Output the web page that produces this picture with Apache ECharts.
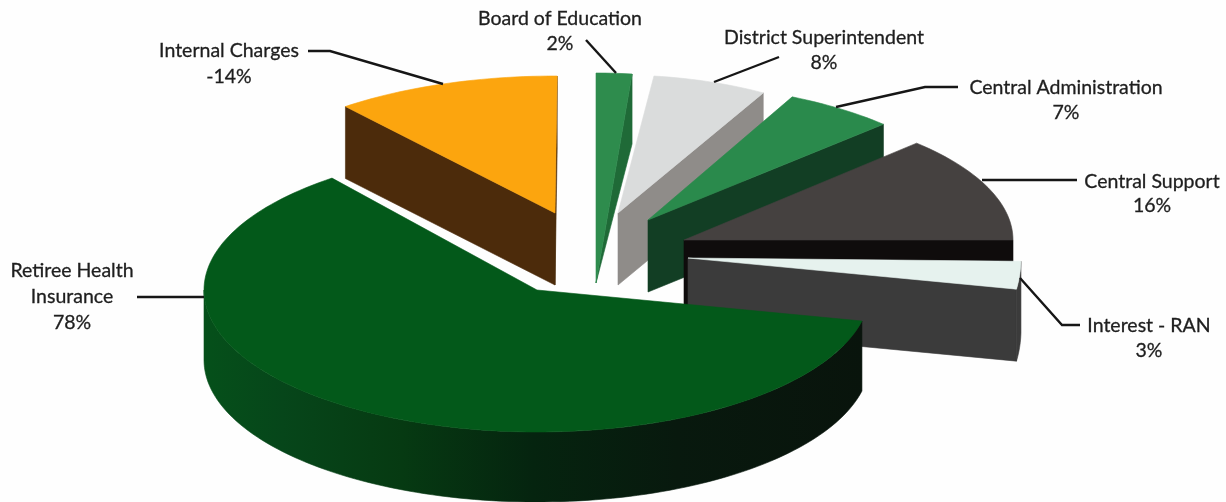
<!DOCTYPE html>
<html>
<head>
<meta charset="utf-8">
<style>html,body{margin:0;padding:0;background:#fefefe}#c{width:1226px;height:502px}</style>
<script src="https://cdn.jsdelivr.net/npm/echarts@6/dist/echarts.min.js"></script>
</head>
<body>
<div id="c"></div>
<script>
// Data (draw order: clockwise from the top left)
var categories = ['Internal Charges', 'Board of Education', 'District Superintendent', 'Central Administration', 'Central Support', 'Interest - RAN', 'Retiree Health\nInsurance'];
var shareValues = [-14, 2, 8, 7, 16, 3, 78];

// Styling of each slice
var topColors  = ['#fca50e', '#2e8c4d', '#dadcdc', '#2a8a4c', '#454140', '#e6f2ee', '#03591a'];
var wallColors = ['#4c2b0b', '#1f6a37', '#8f8c89', '#123e24', '#0f0c0c', '#3b3b3b', null];

// Placement of each exploded slice: apex, radii, thickness, rotation
var layout = [
  {x: 555, y: 213, rx: 333, ry: 137, depth: 72, apexDepth: 72, start: 129},
  {x: 596, y: 283, rx: 368, ry: 210, depth: 70, apexDepth: 0,  start: 90},
  {x: 618, y: 213, rx: 295, ry: 138, depth: 72, apexDepth: 72, start: 83},
  {x: 648, y: 220, rx: 329, ry: 137, depth: 72, apexDepth: 72, start: 64},
  {x: 684, y: 240, rx: 329, ry: 137, depth: 72, apexDepth: 66, start: 45},
  {x: 688, y: 258, rx: 333, ry: 190, depth: 72, apexDepth: 72, start: -1},
  {x: 537, y: 290, rx: 333, ry: 142, depth: 70, apexDepth: 70, start: 128}
];

// Text blocks and leader lines
var labelLayout = [
  {x: 229, y: 51,  lh: 26, line: [[308, 51], [330, 51], [443, 84]]},
  {x: 560, y: 19,  lh: 25, line: [[586, 40], [616, 73]]},
  {x: 824, y: 38,  lh: 25, line: [[779, 57], [714, 82]]},
  {x: 1066, y: 88, lh: 25, line: [[958, 87], [925, 87], [836, 107]]},
  {x: 1152, y: 182, lh: 24, line: [[1077, 180], [982, 180]]},
  {x: 1149, y: 326, lh: 25, line: [[1080, 325], [1062, 325], [1020, 278]]},
  {x: 72, y: 271,  lh: 26, line: [[137, 297], [204, 297]]}
];

var total = shareValues.reduce(function (s, v) { return s + Math.abs(v); }, 0);
var FONT = '19.5px Lato, "Open Sans", sans-serif';
var TEXT = '#1e1e1e';

function rimPoint(l, deg, drop) {
  var a = deg * Math.PI / 180;
  return [l.x + l.rx * Math.cos(a), l.y - l.ry * Math.sin(a) + (drop || 0)];
}
function arc(l, from, to, drop) {
  var pts = [], n = Math.max(2, Math.ceil(Math.abs(to - from) / 1.5));
  for (var k = 0; k <= n; k++) pts.push(rimPoint(l, from + (to - from) * k / n, drop));
  return pts;
}
function poly(points, fill, z2) {
  return {type: 'polygon', shape: {points: points}, style: {fill: fill, stroke: fill, lineWidth: 0.6}, z2: z2 || 0};
}

function renderSlice(params, api) {
  var i = api.value(0), val = api.value(1);
  var l = layout[i];
  var sweep = Math.abs(val) / total * 360;
  var high = l.start;                 // Slices run clockwise from their start, except the big one
  var low = high - sweep;
  if (sweep > 180) { low = l.start; high = l.start + sweep; }
  var apex = [l.x, l.y], apexB = [l.x, l.y + l.apexDepth];
  var wall = wallColors[i] || new echarts.graphic.LinearGradient(0, 0, 1, 0, [
    {offset: 0, color: '#05501a'}, {offset: 0.12, color: '#06461a'}, {offset: 0.3, color: '#063a12'},
    {offset: 0.5, color: '#05240f'}, {offset: 0.72, color: '#08190e'}, {offset: 1, color: '#09140c'}
  ]);
  var kids = [];

  // Cut faces that look toward the viewer
  if (Math.cos(low * Math.PI / 180) > 0.001 && sweep <= 180) {
    kids.push(poly([apex, rimPoint(l, low), rimPoint(l, low, l.depth), apexB], wall));
  }
  if (Math.cos(high * Math.PI / 180) < -0.001 && sweep <= 180) {
    kids.push(poly([apex, rimPoint(l, high), rimPoint(l, high, l.depth), apexB], wall));
  }
  // Outer rim, only the part in the front half
  [[Math.max(low, 180), Math.min(high, 360)], [Math.max(low, -180), Math.min(high, 0)]].forEach(function (s) {
    if (s[1] > s[0]) {
      kids.push(poly(arc(l, s[0], s[1], 0).concat(arc(l, s[1], s[0], l.depth)), wall));
    }
  });
  // Top surface
  kids.push(poly([apex].concat(arc(l, low, high, 0)), topColors[i], 1));

  // Leader and label
  var lab = labelLayout[i];
  kids.push({type: 'polyline', shape: {points: lab.line}, style: {stroke: '#161616', lineWidth: 2.4, fill: null}, z2: 5});
  var lines = categories[i].split('\n').concat([val + '%']);
  lines.forEach(function (t, k) {
    kids.push({type: 'text', z2: 6, style: {
      text: t, x: lab.x, y: lab.y + k * lab.lh, fill: TEXT, stroke: TEXT, lineWidth: 0.3,
      font: FONT, align: 'center', verticalAlign: 'middle'
    }});
  });
  return {type: 'group', children: kids};
}

var chart = echarts.init(document.getElementById('c'), null, {renderer: 'canvas'});
chart.setOption({
  backgroundColor: '#fefefe',
  animation: false,
  series: [{
    type: 'custom',
    coordinateSystem: 'none',
    silent: true,
    renderItem: renderSlice,
    data: shareValues.map(function (v, i) { return [i, v]; })
  }]
});
</script>
</body>
</html>
